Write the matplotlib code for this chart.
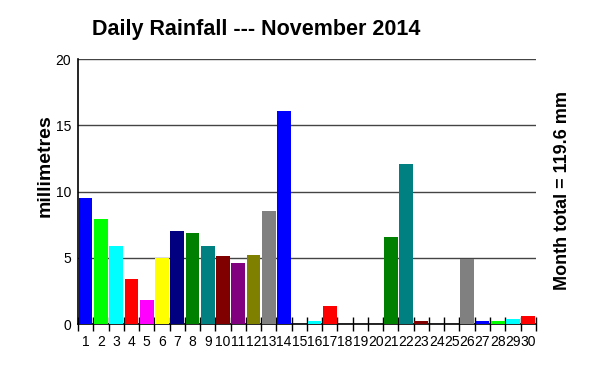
import numpy as np
import matplotlib.pyplot as plt

plt.rcParams['font.family'] = ['Liberation Sans', 'DejaVu Sans']

days = np.arange(1, 31)
rain_mm = [9.5, 7.9, 5.9, 3.4, 1.8, 5.0, 7.0, 6.9, 5.9, 5.1,
           4.6, 5.2, 8.5, 16.1, 0.0, 0.2, 1.4, 0.0, 0.0, 0.0,
           6.6, 12.1, 0.2, 0.0, 0.0, 4.9, 0.2, 0.2, 0.4, 0.6]
palette = ['#0000ff', '#00ff00', '#00ffff', '#ff0000', '#ff00ff', '#ffff00',
           '#000080', '#008000', '#008080', '#800000', '#800080', '#808000',
           '#808080']
colors = [palette[i % len(palette)] for i in range(len(days))]
month_total = 119.6

fig = plt.figure(figsize=(6, 3.67), dpi=100)
ax = fig.add_axes([0.13, 0.117, 0.763, 0.722])

ax.bar(days, rain_mm, width=0.9, color=colors, edgecolor='none', zorder=3)

ax.set_xlim(0.5, 30.5)
ax.set_ylim(0, 20)
ax.set_yticks([0, 5, 10, 15, 20])
ax.yaxis.grid(True, color='#444444', linewidth=1.0, zorder=1)
ax.tick_params(axis='y', length=0, labelsize=10, pad=5)

# labels centred under bars, ticks on day boundaries
ax.set_xticks(days)
ax.set_xticklabels([str(d) for d in days])
ax.set_xticks(np.arange(0.5, 31.5, 1), minor=True)
ax.tick_params(axis='x', which='major', length=0, labelsize=10, pad=8)
ax.tick_params(axis='x', which='minor', direction='inout', length=10, width=1)

for s in ['top', 'right']:
    ax.spines[s].set_visible(False)
ax.spines['left'].set_linewidth(1.2)
ax.spines['bottom'].set_linewidth(1.2)

fig.text(0.427, 0.92, 'Daily Rainfall --- November 2014', ha='center', va='center',
         fontsize=15.5, fontweight='bold')
fig.text(0.075, 0.55, 'millimetres', ha='center', va='center', rotation=90,
         fontsize=14, fontweight='bold')
fig.text(0.938, 0.48, 'Month total = %.1f mm' % month_total, ha='center', va='center',
         rotation=90, fontsize=13, fontweight='bold')

fig.savefig('out.png', dpi=100)
